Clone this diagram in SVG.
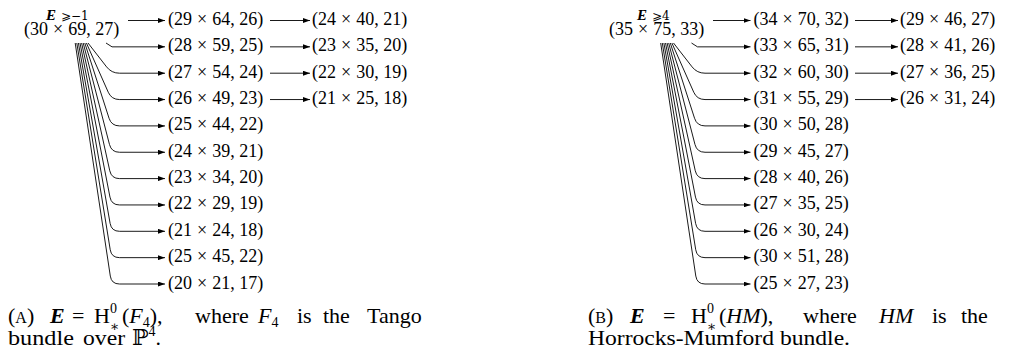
<svg xmlns="http://www.w3.org/2000/svg" width="1015" height="360" viewBox="0 0 1015 360">
<style>
.t{font-family:"Liberation Serif",serif;font-size:18px;fill:#000}
.c{font-family:"Liberation Serif","DejaVu Serif",serif;font-size:22px;fill:#000}
.bi{font-family:"Liberation Serif",serif;font-weight:bold;font-style:italic}
.sub{font-family:"DejaVu Serif","DejaVu Sans",serif;font-size:12px;font-weight:normal;font-style:normal}
.it{font-style:italic}
.ln{fill:none;stroke:#000;stroke-width:0.9;marker-end:url(#ah)}
</style>
<defs>
<marker id="ah" viewBox="0 0 7 5" refX="7" refY="2.5" markerWidth="7" markerHeight="5" markerUnits="userSpaceOnUse" orient="auto"><path d="M0,0 L7,2.5 L0,5 z" fill="#000"/></marker>
</defs>
<rect width="1015" height="360" fill="#fff"/>

<!-- Diagram A -->
<g id="a-root">
<text class="bi" x="46" y="20" font-size="15">E<tspan class="sub" x="61" y="19.5">⩾−1</tspan></text>
<text class="t" x="24" y="34.5">(30<tspan dx="5">×</tspan><tspan dx="5">69, 27)</tspan></text>
</g>
<g id="connectors-a">
<path class="ln" d="M128,20.5 L165,20.5"/>
<path class="ln" d="M106,43 L112,46.85 L165,46.85"/>
<path class="ln" d="M88,43 L106.59,66.89 Q111.5,73.2 119.5,73.2 L165,73.2"/>
<path class="ln" d="M86.4,43 L108.25,92.24 Q111.5,99.55 119.5,99.55 L165,99.55"/>
<path class="ln" d="M84.8,43 L109.05,118.28 Q111.5,125.9 119.5,125.9 L165,125.9"/>
<path class="ln" d="M83.2,43 L109.49,144.51 Q111.5,152.25 119.5,152.25 L165,152.25"/>
<path class="ln" d="M81.6,43 L109.78,170.79 Q111.5,178.6 119.5,178.6 L165,178.6"/>
<path class="ln" d="M80,43 L109.97,197.1 Q111.5,204.95 119.5,204.95 L165,204.95"/>
<path class="ln" d="M78.4,43 L110.12,223.42 Q111.5,231.3 119.5,231.3 L165,231.3"/>
<path class="ln" d="M76.8,43 L110.22,249.75 Q111.5,257.65 119.5,257.65 L165,257.65"/>
<path class="ln" d="M75.2,43 L110.31,276.09 Q111.5,284 119.5,284 L165,284"/>
<path class="ln" d="M270,20.5 L310,20.5"/>
<path class="ln" d="M270,46.85 L310,46.85"/>
<path class="ln" d="M270,73.2 L310,73.2"/>
<path class="ln" d="M270,99.55 L310,99.55"/>
</g>
<g id="a-n1"><text class="t" x="168" y="25">(29<tspan dx="5">×</tspan><tspan dx="5">64, 26)</tspan></text></g>
<g id="a-n2"><text class="t" x="168" y="51.35">(28<tspan dx="5">×</tspan><tspan dx="5">59, 25)</tspan></text></g>
<g id="a-n3"><text class="t" x="168" y="77.7">(27<tspan dx="5">×</tspan><tspan dx="5">54, 24)</tspan></text></g>
<g id="a-n4"><text class="t" x="168" y="104.05">(26<tspan dx="5">×</tspan><tspan dx="5">49, 23)</tspan></text></g>
<g id="a-n5"><text class="t" x="168" y="130.4">(25<tspan dx="5">×</tspan><tspan dx="5">44, 22)</tspan></text></g>
<g id="a-n6"><text class="t" x="168" y="156.75">(24<tspan dx="5">×</tspan><tspan dx="5">39, 21)</tspan></text></g>
<g id="a-n7"><text class="t" x="168" y="183.1">(23<tspan dx="5">×</tspan><tspan dx="5">34, 20)</tspan></text></g>
<g id="a-n8"><text class="t" x="168" y="209.45">(22<tspan dx="5">×</tspan><tspan dx="5">29, 19)</tspan></text></g>
<g id="a-n9"><text class="t" x="168" y="235.8">(21<tspan dx="5">×</tspan><tspan dx="5">24, 18)</tspan></text></g>
<g id="a-n10"><text class="t" x="168" y="262.15">(25<tspan dx="5">×</tspan><tspan dx="5">45, 22)</tspan></text></g>
<g id="a-n11"><text class="t" x="168" y="288.5">(20<tspan dx="5">×</tspan><tspan dx="5">21, 17)</tspan></text></g>
<g id="a-m1"><text class="t" x="312" y="25">(24<tspan dx="5">×</tspan><tspan dx="5">40, 21)</tspan></text></g>
<g id="a-m2"><text class="t" x="312" y="51.35">(23<tspan dx="5">×</tspan><tspan dx="5">35, 20)</tspan></text></g>
<g id="a-m3"><text class="t" x="312" y="77.7">(22<tspan dx="5">×</tspan><tspan dx="5">30, 19)</tspan></text></g>
<g id="a-m4"><text class="t" x="312" y="104.05">(21<tspan dx="5">×</tspan><tspan dx="5">25, 18)</tspan></text></g>

<!-- Diagram B -->
<g id="b-root">
<text class="bi" x="637" y="20" font-size="15">E<tspan class="sub" x="652" y="19.5">⩾4</tspan></text>
<text class="t" x="609" y="34.5">(35<tspan dx="5">×</tspan><tspan dx="5">75, 33)</tspan></text>
</g>
<g id="connectors-b">
<path class="ln" d="M713,20.5 L750.5,20.5"/>
<path class="ln" d="M691.5,43 L697.5,46.85 L750.5,46.85"/>
<path class="ln" d="M673.5,43 L692.09,66.89 Q697,73.2 705,73.2 L750.5,73.2"/>
<path class="ln" d="M671.9,43 L693.75,92.24 Q697,99.55 705,99.55 L750.5,99.55"/>
<path class="ln" d="M670.3,43 L694.55,118.28 Q697,125.9 705,125.9 L750.5,125.9"/>
<path class="ln" d="M668.7,43 L694.99,144.51 Q697,152.25 705,152.25 L750.5,152.25"/>
<path class="ln" d="M667.1,43 L695.28,170.79 Q697,178.6 705,178.6 L750.5,178.6"/>
<path class="ln" d="M665.5,43 L695.47,197.1 Q697,204.95 705,204.95 L750.5,204.95"/>
<path class="ln" d="M663.9,43 L695.62,223.42 Q697,231.3 705,231.3 L750.5,231.3"/>
<path class="ln" d="M662.3,43 L695.72,249.75 Q697,257.65 705,257.65 L750.5,257.65"/>
<path class="ln" d="M660.7,43 L695.81,276.09 Q697,284 705,284 L750.5,284"/>
<path class="ln" d="M855,20.5 L898,20.5"/>
<path class="ln" d="M855,46.85 L898,46.85"/>
<path class="ln" d="M855,73.2 L898,73.2"/>
<path class="ln" d="M855,99.55 L898,99.55"/>
</g>
<g id="b-n1"><text class="t" x="753.5" y="25">(34<tspan dx="5">×</tspan><tspan dx="5">70, 32)</tspan></text></g>
<g id="b-n2"><text class="t" x="753.5" y="51.35">(33<tspan dx="5">×</tspan><tspan dx="5">65, 31)</tspan></text></g>
<g id="b-n3"><text class="t" x="753.5" y="77.7">(32<tspan dx="5">×</tspan><tspan dx="5">60, 30)</tspan></text></g>
<g id="b-n4"><text class="t" x="753.5" y="104.05">(31<tspan dx="5">×</tspan><tspan dx="5">55, 29)</tspan></text></g>
<g id="b-n5"><text class="t" x="753.5" y="130.4">(30<tspan dx="5">×</tspan><tspan dx="5">50, 28)</tspan></text></g>
<g id="b-n6"><text class="t" x="753.5" y="156.75">(29<tspan dx="5">×</tspan><tspan dx="5">45, 27)</tspan></text></g>
<g id="b-n7"><text class="t" x="753.5" y="183.1">(28<tspan dx="5">×</tspan><tspan dx="5">40, 26)</tspan></text></g>
<g id="b-n8"><text class="t" x="753.5" y="209.45">(27<tspan dx="5">×</tspan><tspan dx="5">35, 25)</tspan></text></g>
<g id="b-n9"><text class="t" x="753.5" y="235.8">(26<tspan dx="5">×</tspan><tspan dx="5">30, 24)</tspan></text></g>
<g id="b-n10"><text class="t" x="753.5" y="262.15">(30<tspan dx="5">×</tspan><tspan dx="5">51, 28)</tspan></text></g>
<g id="b-n11"><text class="t" x="753.5" y="288.5">(25<tspan dx="5">×</tspan><tspan dx="5">27, 23)</tspan></text></g>
<g id="b-m1"><text class="t" x="900" y="25">(29<tspan dx="5">×</tspan><tspan dx="5">46, 27)</tspan></text></g>
<g id="b-m2"><text class="t" x="900" y="51.35">(28<tspan dx="5">×</tspan><tspan dx="5">41, 26)</tspan></text></g>
<g id="b-m3"><text class="t" x="900" y="77.7">(27<tspan dx="5">×</tspan><tspan dx="5">36, 25)</tspan></text></g>
<g id="b-m4"><text class="t" x="900" y="104.05">(26<tspan dx="5">×</tspan><tspan dx="5">31, 24)</tspan></text></g>

<!-- Captions -->
<g id="caption-a">
<text class="c" x="8" y="323">(<tspan font-size="16">A</tspan>)</text>
<text class="c bi" x="50" y="323">E</text>
<text class="c" x="72" y="323">=</text>
<text class="c" x="94" y="323">H<tspan font-size="14" x="110" y="313">0</tspan><tspan font-size="14" x="110" y="331">∗</tspan><tspan x="122" y="323">(</tspan><tspan class="it">F</tspan><tspan font-size="14" dy="4">4</tspan><tspan dy="-4">),</tspan></text>
<text class="c" x="195" y="323">where</text>
<text class="c" x="258" y="323"><tspan class="it">F</tspan><tspan font-size="14" dy="4">4</tspan></text>
<text class="c" x="297" y="323">is</text>
<text class="c" x="323" y="323">the</text>
<text class="c" x="367" y="323">Tango</text>
<text class="c" x="8" y="345" textLength="66" lengthAdjust="spacingAndGlyphs">bundle</text>
<text class="c" x="83" y="345" textLength="42" lengthAdjust="spacingAndGlyphs">over</text>
<text class="c" x="132" y="345">ℙ<tspan font-size="14" dy="-9">4</tspan><tspan dy="9">.</tspan></text>
</g>
<g id="caption-b">
<text class="c" x="588" y="323">(<tspan font-size="16">B</tspan>)</text>
<text class="c bi" x="630" y="323">E</text>
<text class="c" x="663" y="323">=</text>
<text class="c" x="691" y="323">H<tspan font-size="14" x="707" y="313">0</tspan><tspan font-size="14" x="707" y="331">∗</tspan><tspan x="719" y="323">(</tspan><tspan class="it">HM</tspan>),</text>
<text class="c" x="803" y="323">where</text>
<text class="c it" x="879" y="323">HM</text>
<text class="c" x="932" y="323">is</text>
<text class="c" x="961" y="323">the</text>
<text class="c" x="588" y="345" textLength="262" lengthAdjust="spacingAndGlyphs">Horrocks-Mumford bundle.</text>
</g>
</svg>
